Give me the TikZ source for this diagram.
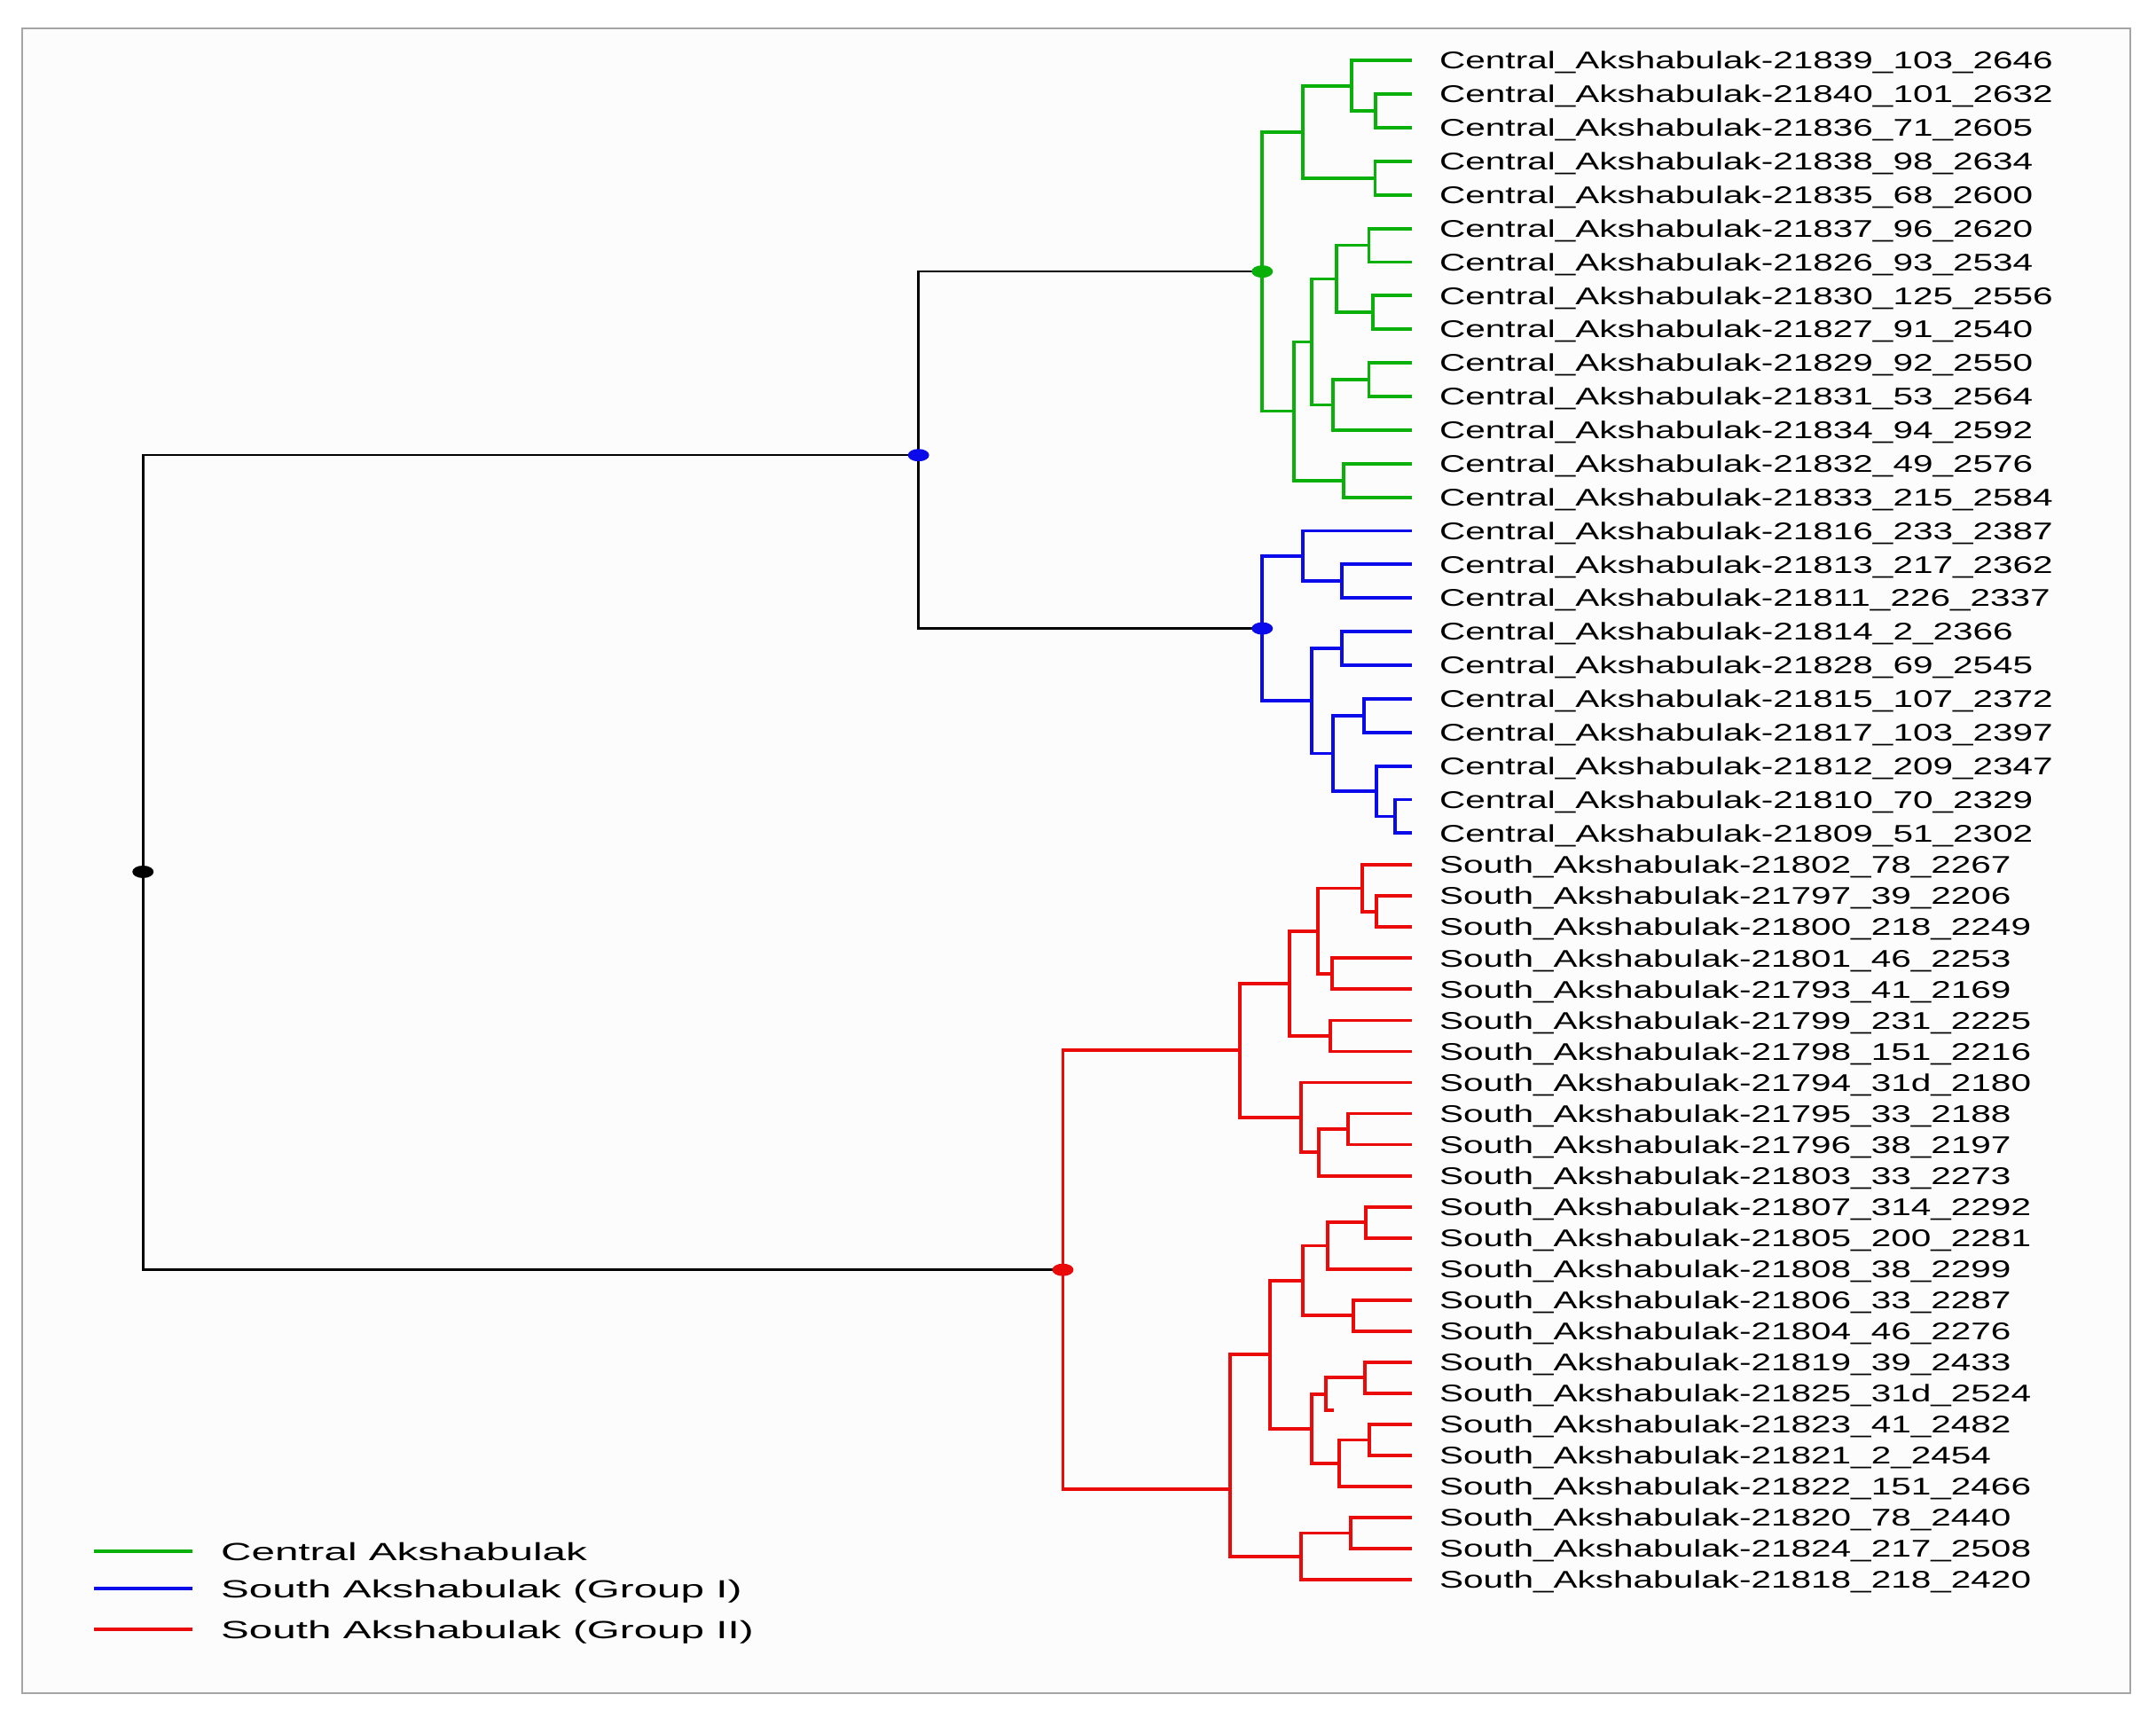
\documentclass[tikz,border=0pt]{standalone}
\usepackage{fontspec}
\usetikzlibrary{calc}
\newfontfamily\labfont[FakeStretch=1.49]{Liberation Sans}
\newfontfamily\legfont[FakeStretch=1.70]{Liberation Sans}
\definecolor{cgreen}{RGB}{10,176,10}
\definecolor{cblue}{RGB}{10,10,235}
\definecolor{cred}{RGB}{235,10,10}
\definecolor{frame}{RGB}{165,165,165}
% join: colour, name, x, child1, child2
\newcommand\jn[5]{%
  \path let \p1=(#4), \p2=(#5), \p3=(#3,0) in (\x3,{0.5*\y1+0.5*\y2}) coordinate (#2);
  \draw[#1] (#2) |- (#4) (#2) |- (#5);}
% join with explicit y: colour, name, x, y, child1, child2
\newcommand\jnat[6]{%
  \coordinate (#2) at (#3,#4);
  \draw[#1] (#2) |- (#5) (#2) |- (#6);}
\begin{document}
\begin{tikzpicture}[x=1.5504pt,y=-1.5504pt,
  gl/.style={cgreen,line width=3.8pt},
  bl/.style={cblue,line width=3.8pt},
  rl/.style={cred,line width=3.8pt},
  kl/.style={black,line width=2.6pt},
  lab/.style={anchor=base west,inner sep=0pt,yshift=-9.7pt,
    font=\labfont\fontsize{27.2}{30}\selectfont},
  leg/.style={anchor=base west,inner sep=0pt,yshift=-10pt,
    font=\legfont\fontsize{28}{32}\selectfont}]
\useasboundingbox (0,0) rectangle (1568,1249.35);
\draw[frame,line width=2pt,fill=gray!2] (16.1,20.4) rectangle (1549,1231.3);

% leaves and labels
\foreach \t [count=\k from 0] in {%
Central\_Akshabulak-21839\_103\_2646,
Central\_Akshabulak-21840\_101\_2632,
Central\_Akshabulak-21836\_71\_2605,
Central\_Akshabulak-21838\_98\_2634,
Central\_Akshabulak-21835\_68\_2600,
Central\_Akshabulak-21837\_96\_2620,
Central\_Akshabulak-21826\_93\_2534,
Central\_Akshabulak-21830\_125\_2556,
Central\_Akshabulak-21827\_91\_2540,
Central\_Akshabulak-21829\_92\_2550,
Central\_Akshabulak-21831\_53\_2564,
Central\_Akshabulak-21834\_94\_2592,
Central\_Akshabulak-21832\_49\_2576,
Central\_Akshabulak-21833\_215\_2584,
Central\_Akshabulak-21816\_233\_2387,
Central\_Akshabulak-21813\_217\_2362,
Central\_Akshabulak-21811\_226\_2337,
Central\_Akshabulak-21814\_2\_2366,
Central\_Akshabulak-21828\_69\_2545,
Central\_Akshabulak-21815\_107\_2372,
Central\_Akshabulak-21817\_103\_2397,
Central\_Akshabulak-21812\_209\_2347,
Central\_Akshabulak-21810\_70\_2329,
Central\_Akshabulak-21809\_51\_2302,
South\_Akshabulak-21802\_78\_2267,
South\_Akshabulak-21797\_39\_2206,
South\_Akshabulak-21800\_218\_2249,
South\_Akshabulak-21801\_46\_2253,
South\_Akshabulak-21793\_41\_2169,
South\_Akshabulak-21799\_231\_2225,
South\_Akshabulak-21798\_151\_2216,
South\_Akshabulak-21794\_31d\_2180,
South\_Akshabulak-21795\_33\_2188,
South\_Akshabulak-21796\_38\_2197,
South\_Akshabulak-21803\_33\_2273,
South\_Akshabulak-21807\_314\_2292,
South\_Akshabulak-21805\_200\_2281,
South\_Akshabulak-21808\_38\_2299,
South\_Akshabulak-21806\_33\_2287,
South\_Akshabulak-21804\_46\_2276,
South\_Akshabulak-21819\_39\_2433,
South\_Akshabulak-21825\_31d\_2524,
South\_Akshabulak-21823\_41\_2482,
South\_Akshabulak-21821\_2\_2454,
South\_Akshabulak-21822\_151\_2466,
South\_Akshabulak-21820\_78\_2440,
South\_Akshabulak-21824\_217\_2508,
South\_Akshabulak-21818\_218\_2420}{
  \pgfmathsetmacro\yy{\k<24 ? 44+24.43*\k : 629+22.6*(\k-24)}
  \coordinate (L\k) at (1027,\yy);
  \node[lab] (T\k) at (1046.8,\yy) {\t};
}

% green subtree
\jn{gl}{gA11}{1000.2}{L1}{L2}
\jn{gl}{gA1}{983}{L0}{gA11}
\jn{gl}{gA2}{1000}{L3}{L4}
\jn{gl}{gA}{947.5}{gA1}{gA2}
\jn{gl}{gC1}{995.5}{L5}{L6}
\jn{gl}{gC2}{998.7}{L7}{L8}
\jn{gl}{gC12}{971.8}{gC1}{gC2}
\jn{gl}{gC3}{995.5}{L9}{L10}
\jn{gl}{gC4}{969.2}{gC3}{L11}
\jn{gl}{gC5}{954.2}{gC12}{gC4}
\jn{gl}{gC6}{977}{L12}{L13}
\jn{gl}{gC7}{941}{gC5}{gC6}
\jn{gl}{groot}{918}{gA}{gC7}

% blue subtree
\jn{bl}{bB1}{976}{L15}{L16}
\jn{bl}{bB2}{947.7}{L14}{bB1}
\jn{bl}{bB3}{976}{L17}{L18}
\jn{bl}{bB4}{992.2}{L19}{L20}
\jn{bl}{bB5}{1014.4}{L22}{L23}
\jn{bl}{bB6}{1000.8}{L21}{bB5}
\jn{bl}{bB7}{969.2}{bB4}{bB6}
\jn{bl}{bB8}{954.2}{bB3}{bB7}
\jn{bl}{broot}{918}{bB2}{bB8}

% upper black join
\jnat{kl}{top}{668}{331}{groot}{broot}

% red subtree
\jn{rl}{R1}{1000.8}{L25}{L26}
\jn{rl}{R2}{990.7}{L24}{R1}
\jn{rl}{R3}{968.6}{L27}{L28}
\jn{rl}{R4}{958.5}{R2}{R3}
\jn{rl}{R5}{967.5}{L29}{L30}
\jn{rl}{R6}{937.8}{R4}{R5}
\jn{rl}{R7}{980.4}{L32}{L33}
\jn{rl}{R8}{959.3}{R7}{L34}
\jn{rl}{R9}{946.4}{L31}{R8}
\jn{rl}{R10}{901.9}{R6}{R9}
\jn{rl}{R11}{993.3}{L35}{L36}
\jn{rl}{R12}{965.4}{R11}{L37}
\jn{rl}{R13}{984.1}{L38}{L39}
\jn{rl}{R14}{947.7}{R12}{R13}
\jn{rl}{R15}{992.9}{L40}{L41}
\coordinate (stub) at (970,1025.6);
\jn{rl}{R16}{964.3}{R15}{stub}
\jn{rl}{R17}{996.1}{L42}{L43}
\jn{rl}{R18}{974}{R17}{L44}
\jn{rl}{R19}{954.2}{R16}{R18}
\jn{rl}{R20}{923.4}{R14}{R19}
\jn{rl}{R21}{982.5}{L45}{L46}
\jn{rl}{R22}{946.4}{R21}{L47}
\jnat{rl}{R23}{894.4}{1083}{R20}{R22}
\jn{rl}{rroot}{773}{R10}{R23}

% root
\jnat{kl}{root}{104}{634}{top}{rroot}

% dots
\fill[black] (root) ellipse [x radius=12pt,y radius=7pt];
\fill[cblue] (top) ellipse [x radius=12pt,y radius=7pt];
\fill[cgreen] (groot) ellipse [x radius=12pt,y radius=7pt];
\fill[cblue] (broot) ellipse [x radius=12pt,y radius=7pt];
\fill[cred] (rroot) ellipse [x radius=12pt,y radius=7pt];

% legend
\coordinate (lg1a) at (68.4,1128.1); \coordinate (lg1b) at (140,1128.1);
\coordinate (lg2a) at (68.4,1155.2); \coordinate (lg2b) at (140,1155.2);
\coordinate (lg3a) at (68.4,1184.9); \coordinate (lg3b) at (140,1184.9);
\draw[cgreen,line width=3.3pt] (lg1a) -- (lg1b);
\draw[cblue,line width=3.3pt] (lg2a) -- (lg2b);
\draw[cred,line width=3.3pt] (lg3a) -- (lg3b);
\node[leg] (lt1) at (160.6,1128.1) {Central Akshabulak};
\node[leg] (lt2) at (160.6,1155.2) {South Akshabulak (Group I)};
\node[leg] (lt3) at (160.6,1184.9) {South Akshabulak (Group II)};
\end{tikzpicture}
\end{document}
